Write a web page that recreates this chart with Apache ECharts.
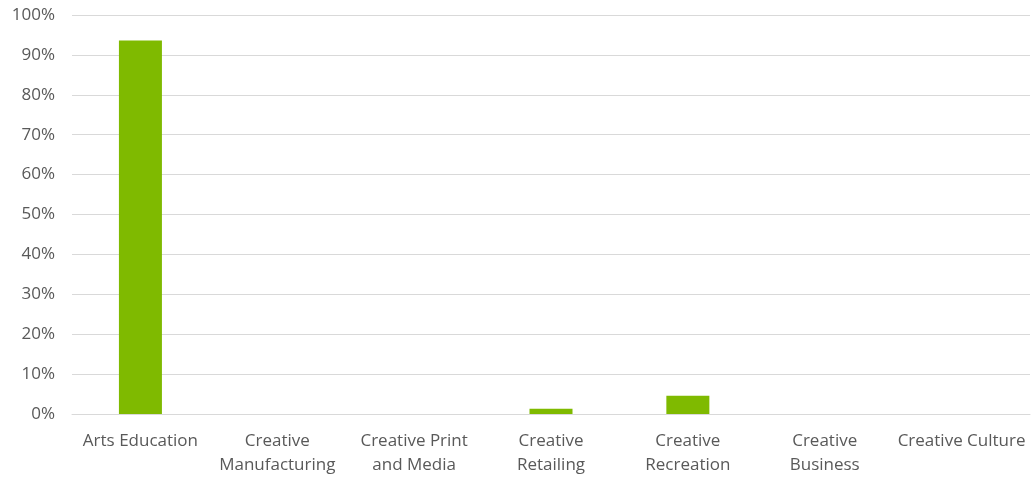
<!DOCTYPE html>
<html>
<head>
<meta charset="utf-8">
<script src="https://cdn.jsdelivr.net/npm/echarts@6/dist/echarts.min.js"></script>
<style>
  html, body { margin: 0; padding: 0; background: #ffffff; }
  #chart { width: 1034px; height: 477px; }
</style>
</head>
<body>
<div id="chart"></div>
<script>
// categories and shares
const categories = [
  'Arts Education',
  'Creative\nManufacturing',
  'Creative Print\nand Media',
  'Creative\nRetailing',
  'Creative\nRecreation',
  'Creative\nBusiness',
  'Creative Culture'
];
const shares = [0.936, 0, 0, 0.013, 0.046, 0, 0];

const chart = echarts.init(document.getElementById('chart'));

const textColor = '#595959';
const gridColor = '#d9d9d9';
const font = '"Open Sans", sans-serif';

chart.setOption({
  backgroundColor: '#ffffff',
  animation: false,
  grid: {
    left: 72,
    right: 4,
    top: 15,
    bottom: 63,
    containLabel: false
  },
  xAxis: {
    type: 'category',
    data: categories,
    axisTick: { show: false },
    axisLine: { lineStyle: { color: gridColor, width: 1 } },
    axisLabel: {
      color: textColor,
      fontFamily: font,
      fontSize: 17,
      lineHeight: 24,
      margin: 15,
      interval: 0
    }
  },
  yAxis: {
    type: 'value',
    min: 0,
    max: 1,
    interval: 0.1,
    axisLine: { show: false },
    axisTick: { show: false },
    splitLine: { lineStyle: { color: gridColor, width: 1 } },
    axisLabel: {
      color: textColor,
      fontFamily: font,
      fontSize: 17,
      margin: 17,
      formatter: (v) => `${Math.round(v * 100)}%`
    }
  },
  series: [{
    type: 'bar',
    data: shares,
    barWidth: 43,
    itemStyle: { color: '#7fba00' }
  }]
});
</script>
</body>
</html>
